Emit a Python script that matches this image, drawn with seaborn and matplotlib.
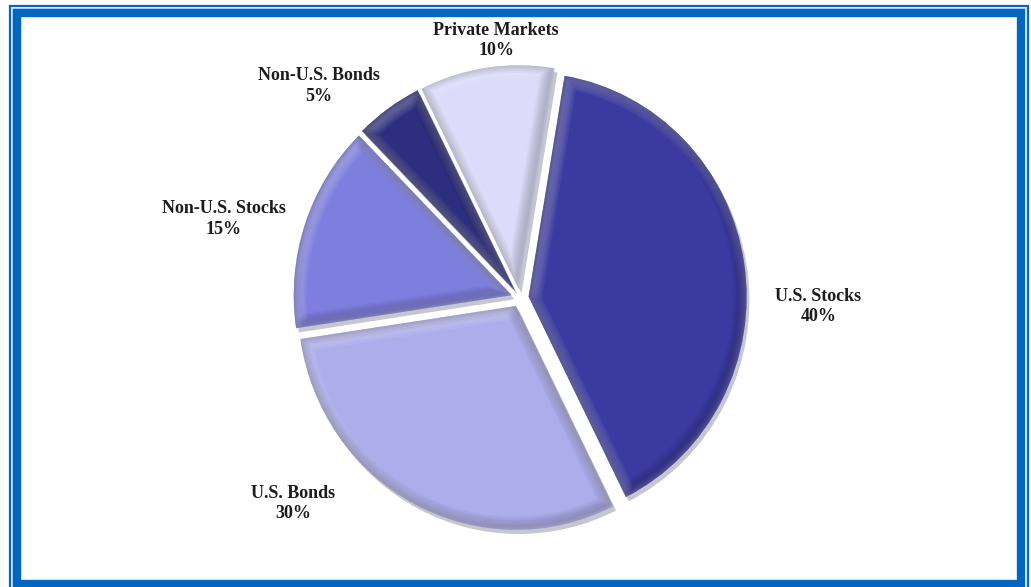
import matplotlib
matplotlib.use("Agg")
import matplotlib.pyplot as plt
import matplotlib.patheffects as pe
from matplotlib.patches import Rectangle, PathPatch
import seaborn as sns

# data
categories = ["U.S. Stocks", "U.S. Bonds", "Non-U.S. Stocks", "Non-U.S. Bonds", "Private Markets"]
shares = [40, 30, 15, 5, 10]
colors = ["#3a3aa0", "#adadec", "#7e7edf", "#2e2e7e", "#dcdcfa"]

# label centres as offsets from the pie centre, in radii
label_offsets = [(1.369, -0.038), (-1.041, -0.918), (-1.360, 0.351), (-0.922, 0.947), (-0.110, 1.15)]

sns.set_style("white")
plt.rcParams["font.family"] = ["Liberation Serif", "DejaVu Serif"]

fig = plt.figure(figsize=(10.31, 5.87), dpi=100)
ax = fig.add_axes([0, 0, 1, 1])

wedges, _ = ax.pie(
    shares,
    colors=colors,
    startangle=80.5,
    counterclock=False,
    explode=[0.04] * len(shares),
    radius=1.0,
    wedgeprops=dict(edgecolor="none", linewidth=0),
)

# soft bevel: drop shadow, then graded light/dark rims clipped inside each wedge
bevel = []
for k in range(1, 7):
    bevel.append(pe.Stroke(offset=(2, -2), linewidth=2.5 * k, foreground="white", alpha=0.05))
for k in range(1, 7):
    bevel.append(pe.Stroke(offset=(-2, 2), linewidth=2.5 * k, foreground="black", alpha=0.035))

for w in wedges:
    w.set_path_effects([
        pe.SimplePatchShadow(offset=(2, -3), shadow_rgbFace="#444466", alpha=0.3),
        pe.Normal(),
    ])
    rim = PathPatch(w.get_path(), transform=w.get_transform(),
                    fill=False, edgecolor="none", zorder=w.get_zorder() + 0.1)
    ax.add_patch(rim)
    rim.set_clip_path(w)
    rim.set_path_effects(bevel)

for (dx, dy), name, val in zip(label_offsets, categories, shares):
    ax.text(dx, dy, f"{name}\n{val}%",
            ha="center", va="center", fontsize=13, fontweight="bold",
            color="#1c1c1c", linespacing=1.3)

# map pie centre to the reference position (slightly taller than wide)
px = 218.0
py = px * 1.027
cx, cy = 520, 587 - 298
ax.set_xlim(-cx / px, (1031 - cx) / px)
ax.set_ylim(-cy / py, (587 - cy) / py)
ax.set_aspect("auto")
ax.axis("off")

# blue frame
W, H = 1031, 587
def frame(x0, y0, x1, y1, lw, col):
    fig.patches.append(Rectangle((x0 / W, 1 - y1 / H), (x1 - x0) / W, (y1 - y0) / H,
                                 transform=fig.transFigure, fill=False,
                                 edgecolor=col, linewidth=lw))
frame(10, 6, 1028, 592, 1.6, "#0066c0")
frame(12, 8, 1026, 590, 0.8, "#c8dcf0")
frame(17, 13, 1021, 584, 6.0, "#0066c0")

fig.savefig("out.png", dpi=100)
